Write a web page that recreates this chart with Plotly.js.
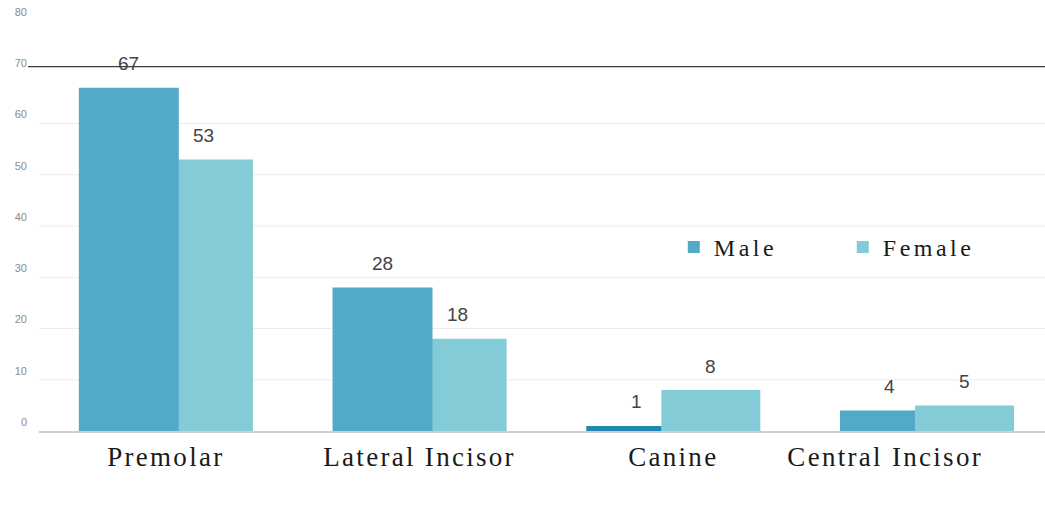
<!DOCTYPE html>
<html><head><meta charset="utf-8">
<script src="https://cdn.plot.ly/plotly-3.0.1.min.js"></script>
<style>
html,body{margin:0;padding:0;background:#fff;}
#chart{width:1045px;height:513px;}
.xtick text{letter-spacing:2.3px;}
.legendtext{letter-spacing:3.5px;}
</style></head><body><div id="chart"></div>
<script>
const categories = ['Premolar', 'Lateral Incisor', 'Canine', 'Central Incisor'];
const maleValues = [67, 28, 1, 4];
const femaleValues = [53, 18, 8, 5];
const yTickValues = [0, 10, 20, 30, 40, 50, 60, 70, 80];
const seriesNames = ['Male', 'Female'];

const idx = categories.map((c, i) => i);
const maleOffset = -0.343, maleWidth = 0.394;
const femaleOffset = -0.047, femaleWidth = 0.39;
const labelShift = [0, 0, 0, -0.165];

const female = {
  type: 'bar', x: idx, y: femaleValues, name: seriesNames[1],
  offset: femaleOffset, width: femaleWidth,
  marker: {color: '#83cbd6'}, legendrank: 2, hoverinfo: 'skip'
};
const male = {
  type: 'bar', x: idx, y: maleValues, name: seriesNames[0],
  offset: maleOffset, width: [maleWidth, maleWidth, 0.296, 0.296],
  marker: {color: ['#53aac8', '#53aac8', '#1f87b0', '#53aac8']}, legendrank: 1, hoverinfo: 'skip'
};

const labelFont = {family: 'Liberation Sans, Arial, sans-serif', size: 19, color: '#444'};
const annotations = [];
idx.forEach(i => {
  annotations.push({x: i + maleOffset + maleWidth / 2, y: maleValues[i], text: String(maleValues[i]),
    showarrow: false, yshift: 24, font: labelFont});
  annotations.push({x: i + femaleOffset + femaleWidth / 2, y: femaleValues[i], text: String(femaleValues[i]),
    showarrow: false, yshift: 24, font: labelFont});
});

const shapes = yTickValues.filter(v => v > 0 && v <= 60).map(v => ({
  type: 'line', xref: 'paper', x0: 0, x1: 1, yref: 'y', y0: v, y1: v,
  line: {color: '#ececec', width: 1}, layer: 'below'
}));
shapes.push({type: 'line', xref: 'paper', x0: -0.011, x1: 1, yref: 'y', y0: 71.1, y1: 71.1,
  line: {color: '#3a3a3a', width: 1.3}});

const layout = {
  width: 1045, height: 513,
  margin: {l: 39, r: 0, t: 21, b: 82},
  paper_bgcolor: '#fff', plot_bgcolor: '#fff',
  barmode: 'overlay',
  showlegend: true,
  legend: {orientation: 'h', x: 0.631, xanchor: 'left', y: 0.448, yanchor: 'middle',
    font: {family: 'Liberation Serif, Times New Roman, serif', size: 24, color: '#1a1a1a'},
    entrywidth: 124, bgcolor: 'rgba(0,0,0,0)'},
  xaxis: {range: [-0.5, 3.465], tickvals: idx.map((i) => i + labelShift[i]), ticktext: categories,
    showgrid: false, zeroline: false,
    showline: true, linecolor: '#cfcfcf', linewidth: 1.5, ticks: '', ticklabelstandoff: 1,
    tickfont: {family: 'Liberation Serif, Times New Roman, serif', size: 27, color: '#1a1a1a'}},
  yaxis: {range: [0, 80], tickvals: yTickValues, showgrid: false, zeroline: false, showline: false,
    ticks: '', ticklabelshift: -9, ticklabelstandoff: 11,
    tickfont: {family: 'Liberation Sans, Arial, sans-serif', size: 11, color: '#8c8c8c'}},
  annotations: annotations,
  shapes: shapes
};

Plotly.newPlot('chart', [female, male], layout, {displayModeBar: false, staticPlot: true});
</script></body></html>
